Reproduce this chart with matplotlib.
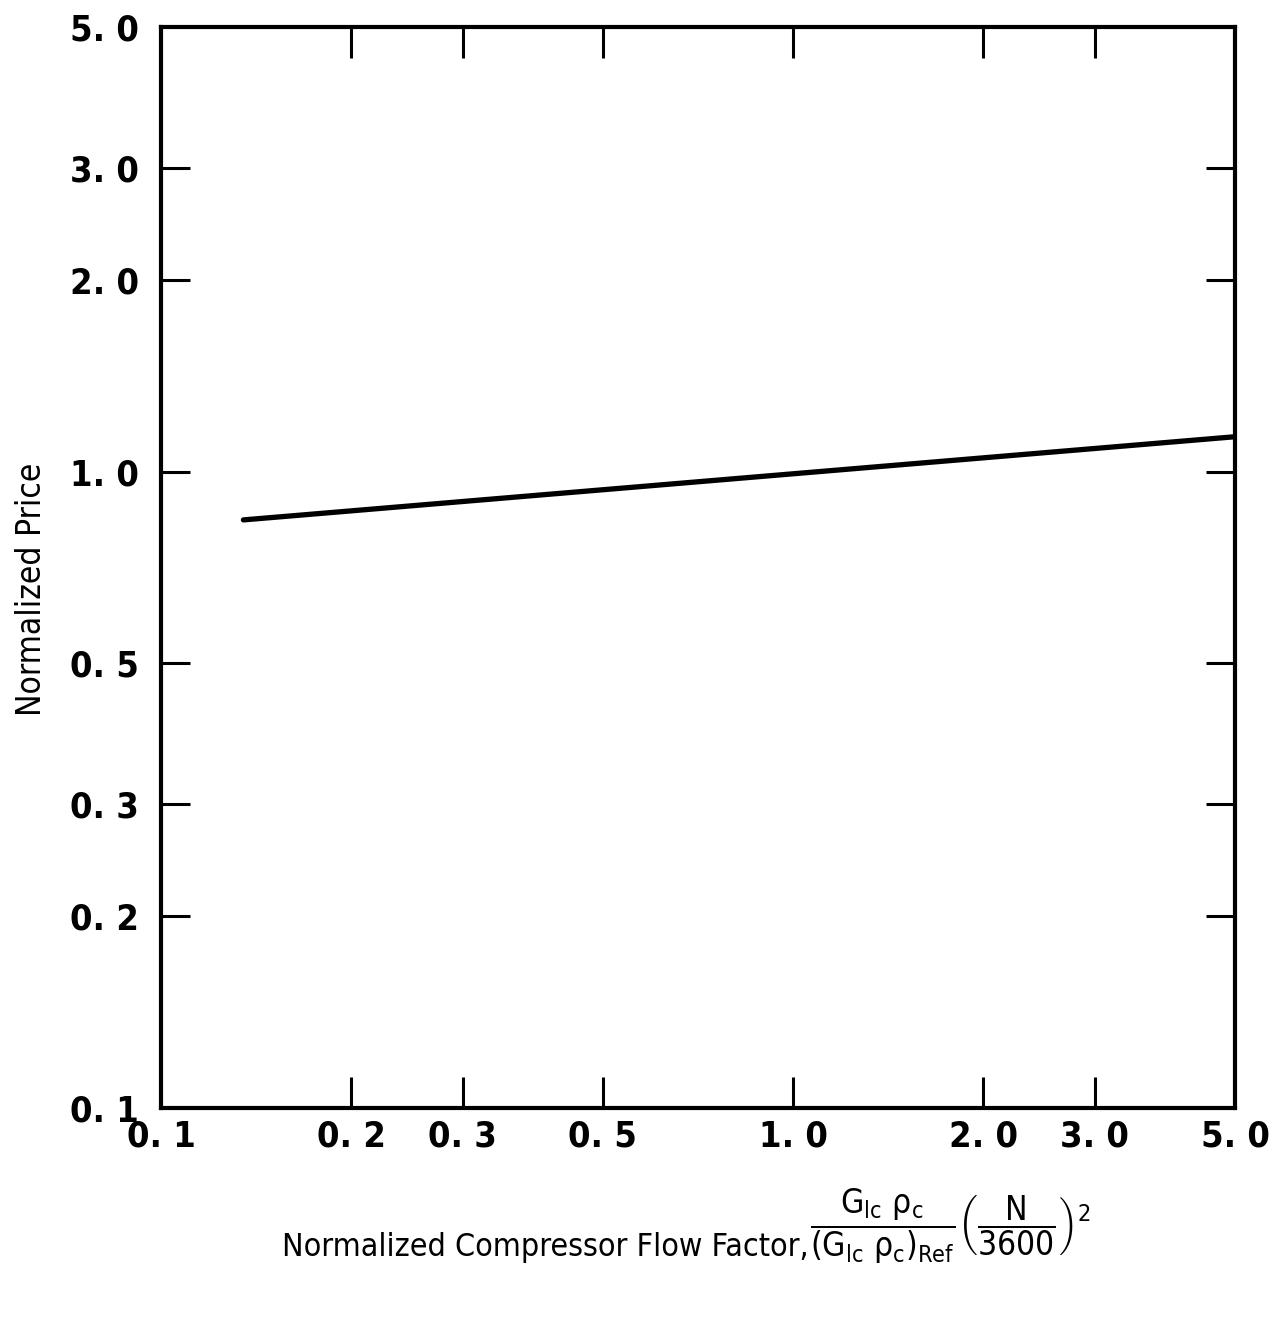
import matplotlib
matplotlib.use("Agg")
import matplotlib.pyplot as plt
from matplotlib.ticker import FixedLocator, NullLocator, FixedFormatter

# ---- data ----
flow_factor = [0.135, 5.0]
normalized_price = [0.84, 1.135]

x_ticks = [0.1, 0.2, 0.3, 0.5, 1.0, 2.0, 3.0, 5.0]
x_tick_labels = ["0. 1", "0. 2", "0. 3", "0. 5", "1. 0", "2. 0", "3. 0", "5. 0"]
y_ticks = [0.1, 0.2, 0.3, 0.5, 1.0, 2.0, 3.0, 5.0]
y_tick_labels = ["0. 1", "0. 2", "0. 3", "0. 5", "1. 0", "2. 0", "3. 0", "5. 0"]
inner_ticks = [0.2, 0.3, 0.5, 1.0, 2.0, 3.0]

plt.rcParams["font.family"] = ["DejaVu Sans"]
plt.rcParams["font.stretch"] = "condensed"
plt.rcParams["mathtext.fontset"] = "custom"
plt.rcParams["mathtext.rm"] = "DejaVu Sans:stretch=condensed"
plt.rcParams["mathtext.it"] = "DejaVu Sans:stretch=condensed"
plt.rcParams["mathtext.bf"] = "DejaVu Sans:stretch=condensed:weight=bold"

fig = plt.figure(figsize=(12.71, 13.27), dpi=100)
ax = fig.add_axes([0.1267, 0.165, 0.845, 0.8147])

ax.plot(flow_factor, normalized_price, color="black", lw=3.8, solid_capstyle="round")

ax.set_xscale("log")
ax.set_yscale("log")
ax.set_xlim(0.1, 5.0)
ax.set_ylim(0.1, 5.0)

for s in ax.spines.values():
    s.set_linewidth(3.0)
    s.set_color("black")

ax.xaxis.set_major_locator(FixedLocator(x_ticks))
ax.xaxis.set_major_formatter(FixedFormatter(x_tick_labels))
ax.yaxis.set_major_locator(FixedLocator(y_ticks))
ax.yaxis.set_major_formatter(FixedFormatter(y_tick_labels))
ax.xaxis.set_minor_locator(NullLocator())
ax.yaxis.set_minor_locator(NullLocator())

ax.tick_params(which="major", direction="in", length=0, width=2.0,
               top=False, right=False, labelsize=26, pad=8)
ax.tick_params(axis="y", pad=16)
for lbl in ax.get_xticklabels() + ax.get_yticklabels():
    lbl.set_fontweight("bold")
    lbl.set_fontstretch("condensed")

# inward tick marks on all four sides
tick_kw = dict(color="black", lw=2.2, solid_capstyle="butt")
xa = ax.get_xaxis_transform()
ya = ax.get_yaxis_transform()
for v in inner_ticks:
    ax.plot([v, v], [0, 0.029], transform=xa, clip_on=False, **tick_kw)
    ax.plot([v, v], [1, 1 - 0.029], transform=xa, clip_on=False, **tick_kw)
    ax.plot([0, 0.027], [v, v], transform=ya, clip_on=False, **tick_kw)
    ax.plot([1, 1 - 0.027], [v, v], transform=ya, clip_on=False, **tick_kw)

ax.set_ylabel("Normalized Price", fontsize=24, fontstretch="condensed")
ax.yaxis.set_label_coords(-0.105, 0.48)

fig.text(0.222, 0.0535, "Normalized Compressor Flow Factor,", fontsize=23,
         fontstretch="condensed", ha="left", va="baseline")
fig.text(0.637, 0.069,
         r"$\dfrac{\mathrm{G_{lc}\ \rho_c}}{\mathrm{(G_{lc}\ \rho_c)_{Ref}}}"
         r"\left(\dfrac{\mathrm{N}}{\mathrm{3600}}\right)^{\mathrm{2}}$",
         fontsize=24, ha="left", va="baseline")

fig.savefig("out.png", dpi=100, facecolor="white")
